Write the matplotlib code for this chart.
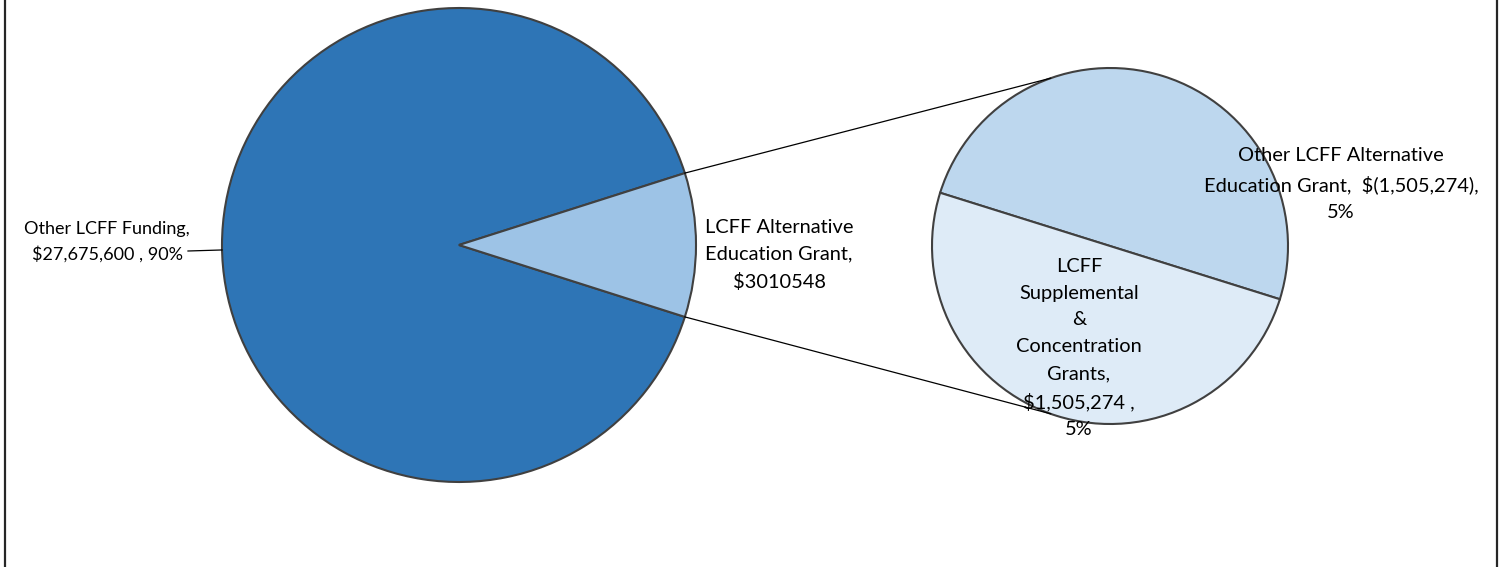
import numpy as np
import matplotlib
matplotlib.use("Agg")
import matplotlib.pyplot as plt
from matplotlib.lines import Line2D

# data
main_labels = ["Other LCFF Funding", "LCFF Alternative Education Grant"]
main_values = [27675600, 3010548]
sub_labels = ["Other LCFF Alternative Education Grant",
              "LCFF Supplemental & Concentration Grants"]
sub_values = [-1505274, 1505274]

main_colors = ["#2E75B6", "#9DC3E6"]
sub_colors = ["#BDD7EE", "#DEEBF7"]
edge = "#404040"

plt.rcParams["font.family"] = ["Lato", "DejaVu Sans"]

W, H = 1504, 567
fig = plt.figure(figsize=(W / 100, H / 100), dpi=100)
ax = fig.add_axes([0, 0, 1, 1])

total = sum(main_values)

# main pie, small slice centred on the right
c1 = (459, H - 245)
r1 = 237
half = main_values[1] / total * 180
ax.pie(main_values, colors=main_colors, center=c1, radius=r1,
       startangle=half, counterclock=True, frame=True,
       wedgeprops=dict(edgecolor=edge, linewidth=1.5))

# secondary pie splitting the small slice
c2 = (1110, H - 246)
r2 = 178
sizes = [abs(v) for v in sub_values]
ax.pie(sizes, colors=sub_colors, center=c2, radius=r2,
       startangle=-17.4, counterclock=True, frame=True,
       wedgeprops=dict(edgecolor=edge, linewidth=1.5))

# connector lines
for sgn in (1, -1):
    a1 = np.radians(sgn * half)
    a2 = np.radians(sgn * 109.5)
    ax.plot([c1[0] + r1 * np.cos(a1), c2[0] + r2 * np.cos(a2)],
            [c1[1] + r1 * np.sin(a1), c2[1] + r2 * np.sin(a2)],
            color="black", lw=0.9, zorder=5)

ax.set_xlim(0, W)
ax.set_ylim(0, H)
ax.set_aspect("auto")
ax.axis("off")


def money(v):
    if v < 0:
        return f"$({abs(v):,})"
    return f"${v:,}"


def pct(v):
    return f"{abs(v) / total * 100:.0f}%"


ls = 1.70

# labels
ax.text(107, H - 242, f"{main_labels[0]},\n{money(main_values[0])} , {pct(main_values[0])}",
        ha="center", va="center", fontsize=13, linespacing=1.66, color="black")
a = np.radians(181.2)
ax.plot([188, c1[0] + r1 * np.cos(a)], [H - 251, c1[1] + r1 * np.sin(a)],
        color="black", lw=0.9)

ax.text(779, H - 255, "LCFF Alternative\nEducation Grant,\n$" + str(main_values[1]),
        ha="center", va="center", fontsize=14.4, linespacing=ls, color="black")

ax.text(1341, H - 184,
        f"Other LCFF Alternative\nEducation Grant,  {money(sub_values[0])},\n{pct(sub_values[0])}",
        ha="center", va="center", fontsize=14.4, linespacing=ls, color="black", zorder=6)

ax.text(1079, H - 348,
        f"LCFF\nSupplemental\n&\nConcentration\nGrants,\n{money(sub_values[1])} ,\n{pct(sub_values[1])}",
        ha="center", va="center", fontsize=14.4, linespacing=ls, color="black", zorder=6)

# chart frame edges
for x in (5, 1497):
    fig.add_artist(Line2D([x / W, x / W], [0, 1], color="#262626", lw=1.6))

fig.savefig("out.png", dpi=100)
